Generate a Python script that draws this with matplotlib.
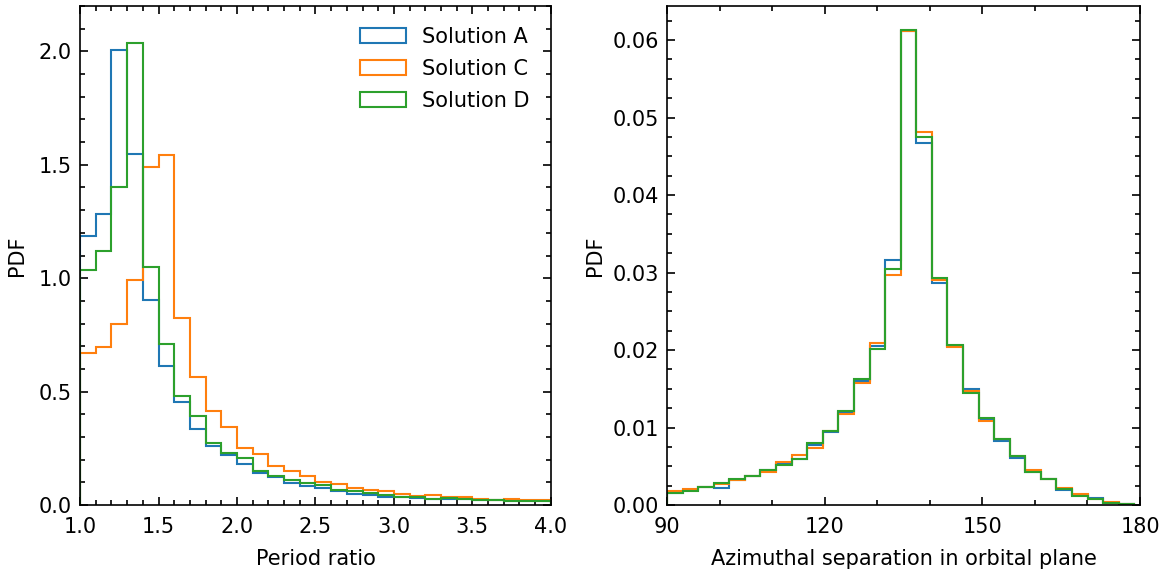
import numpy as np
import matplotlib
matplotlib.use("Agg")
import matplotlib.pyplot as plt
from matplotlib.ticker import MultipleLocator

# --- left panel: period ratio, bins of 0.1 from 1.0 to 4.0 ---
ratio_edges = np.round(np.arange(1.0, 4.01, 0.1), 2)
ratio_A = [1.185, 1.284, 2.004, 1.549, 0.903, 0.615, 0.452, 0.333, 0.260, 0.222,
           0.179, 0.139, 0.122, 0.098, 0.085, 0.073, 0.064, 0.050, 0.044, 0.037,
           0.034, 0.032, 0.028, 0.028, 0.027, 0.022, 0.021, 0.019, 0.018, 0.017]
ratio_C = [0.670, 0.697, 0.797, 0.990, 1.489, 1.542, 0.826, 0.566, 0.415, 0.343,
           0.250, 0.223, 0.173, 0.150, 0.129, 0.103, 0.092, 0.076, 0.066, 0.060,
           0.048, 0.041, 0.043, 0.034, 0.034, 0.026, 0.023, 0.025, 0.022, 0.020]
ratio_D = [1.035, 1.121, 1.404, 2.036, 1.051, 0.709, 0.480, 0.392, 0.275, 0.228,
           0.206, 0.150, 0.126, 0.110, 0.095, 0.088, 0.066, 0.060, 0.053, 0.044,
           0.037, 0.034, 0.028, 0.029, 0.028, 0.023, 0.022, 0.019, 0.018, 0.018]

# --- right panel: azimuthal separation, 30 bins ---
azim_edges = np.linspace(90.0, 178.9, 31)
azim_A = [0.0016, 0.0020, 0.0023, 0.0022, 0.0032, 0.0038, 0.0045, 0.0053, 0.0060, 0.0077,
          0.0094, 0.0120, 0.0160, 0.0205, 0.0316, 0.0612, 0.0467, 0.0286, 0.0205, 0.0150,
          0.0111, 0.0082, 0.0061, 0.0042, 0.0033, 0.0020, 0.0013, 0.0009, 0.0003, 0.0001]
azim_C = [0.0018, 0.0021, 0.0023, 0.0027, 0.0032, 0.0038, 0.0043, 0.0055, 0.0064, 0.0074,
          0.0096, 0.0117, 0.0157, 0.0209, 0.0297, 0.0612, 0.0482, 0.0290, 0.0204, 0.0147,
          0.0109, 0.0085, 0.0063, 0.0045, 0.0033, 0.0022, 0.0014, 0.0008, 0.0004, 0.0001]
azim_D = [0.00155, 0.0018, 0.0023, 0.0028, 0.0033, 0.0038, 0.00455, 0.0052, 0.0059, 0.0080,
          0.0095, 0.0121, 0.0163, 0.0201, 0.0304, 0.0613, 0.0475, 0.0293, 0.0206, 0.0145,
          0.0112, 0.0085, 0.0063, 0.0043, 0.0033, 0.0021, 0.0012, 0.0008, 0.00026, 0.0001]

labels = ["Solution A", "Solution C", "Solution D"]
colors = ["C0", "C1", "C2"]

plt.rcParams["font.size"] = 15
plt.rcParams["axes.linewidth"] = 1.2

fig = plt.figure(figsize=(11.67, 5.75), dpi=100)
ax1 = fig.add_axes([0.0686, 0.1217, 0.4034, 0.8679])
ax2 = fig.add_axes([0.5716, 0.1217, 0.4053, 0.8679])


def style(ax):
    ax.tick_params(which="both", direction="in", top=True, right=True, width=1.2)
    ax.tick_params(which="major", length=6)
    ax.tick_params(which="minor", length=3.5)
    ax.tick_params(axis="x", which="major", pad=8.5)
    ax.tick_params(axis="y", which="major", pad=6)


def draw(ax, edges, series):
    # histograms are already normalised, so pass the bin heights as weights
    for vals, lab, col in zip(series, labels, colors):
        ax.hist(edges[:-1], bins=edges, weights=vals, histtype="step",
                color=col, lw=1.5, label=lab)


draw(ax1, ratio_edges, [ratio_A, ratio_C, ratio_D])
ax1.set_xlim(1.0, 4.0)
ax1.set_ylim(0, 2.2)
ax1.xaxis.set_major_locator(MultipleLocator(0.5))
ax1.xaxis.set_minor_locator(MultipleLocator(0.1))
ax1.yaxis.set_major_locator(MultipleLocator(0.5))
ax1.yaxis.set_minor_locator(MultipleLocator(0.1))
ax1.set_xlabel("Period ratio", labelpad=9)
ax1.set_ylabel("PDF", labelpad=8)
ax1.legend(loc="upper right", frameon=False, handlelength=2.2,
           labelspacing=0.58, borderaxespad=0.6)
style(ax1)

draw(ax2, azim_edges, [azim_A, azim_C, azim_D])
ax2.set_xlim(90, 180)
ax2.set_ylim(0, 0.0644)
ax2.xaxis.set_major_locator(MultipleLocator(30))
ax2.xaxis.set_minor_locator(MultipleLocator(10))
ax2.yaxis.set_major_locator(MultipleLocator(0.01))
ax2.yaxis.set_minor_locator(MultipleLocator(0.0025))
ax2.set_xlabel("Azimuthal separation in orbital plane", labelpad=9)
ax2.set_ylabel("PDF", labelpad=5)
style(ax2)

fig.savefig("out.png", dpi=100)
